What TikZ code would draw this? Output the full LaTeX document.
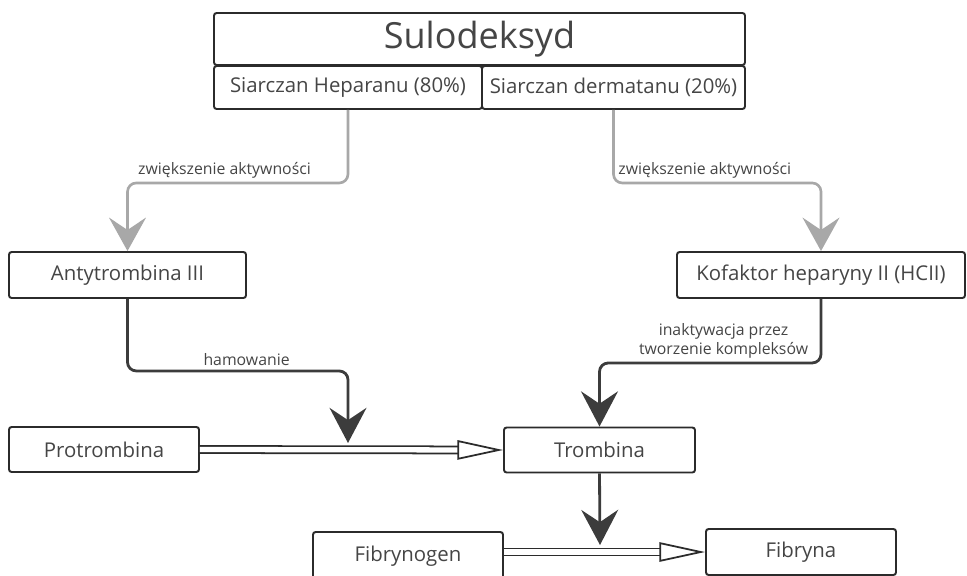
\documentclass[tikz,border=0pt]{standalone}
\usepackage{fontspec}
\setmainfont{Open Sans}
\usetikzlibrary{arrows.meta}

\definecolor{boxline}{HTML}{2B2B2B}
\definecolor{txt}{HTML}{454545}
\definecolor{lightarr}{HTML}{A8A8A8}
\definecolor{darkarr}{HTML}{3C3C3C}

\tikzset{
  box/.style={draw=boxline, line width=1.1pt, rounded corners=1.5pt, fill=white,
    text=txt, font=\fontsize{11.6pt}{14pt}\selectfont, inner sep=0pt},
  lbl/.style={text=txt, font=\fontsize{9pt}{10.5pt}\selectfont, align=center, inner sep=2pt},
  upreg/.style={draw=lightarr, line width=1.5pt, rounded corners=5pt,
    -{Stealth[length=19pt, width=21pt, inset=7pt]}},
  inhib/.style={draw=darkarr, line width=1.6pt, rounded corners=5pt,
    -{Stealth[length=20pt, width=21pt, inset=7pt]}},
  convert/.style={draw=boxline, line width=1pt, double=white, double distance=3pt,
    -{Triangle[open, length=26pt, width=11pt]}}
}

\begin{document}
\begin{tikzpicture}[x=0.02cm, y=-0.02cm]
\clip (0,0) rectangle (967,575);

\node[box, minimum width=531*0.02cm, minimum height=52*0.02cm,
  font=\fontsize{20.5pt}{24pt}\selectfont] (sulo) at (479.5,39) {Sulodeksyd};
\node[box, minimum width=268*0.02cm, minimum height=43*0.02cm] (hep) at (348,87.5) {Siarczan Heparanu (80\%)};
\node[box, minimum width=263*0.02cm, minimum height=43*0.02cm] (derm) at (613.5,87.5) {Siarczan dermatanu (20\%)};

\node[box, minimum width=237*0.02cm, minimum height=46*0.02cm] (anty) at (127.5,275) {Antytrombina III};
\node[box, minimum width=288*0.02cm, minimum height=46*0.02cm] (hcii) at (821,275) {Kofaktor heparyny II (HCII)};

\node[box, minimum width=190*0.02cm, minimum height=45*0.02cm] (pro) at (104,449.5) {Protrombina};
\node[box, minimum width=191*0.02cm, minimum height=45*0.02cm] (trom) at (599.5,450) {Trombina};

\node[box, minimum width=190*0.02cm, minimum height=48*0.02cm] (fgen) at (408,556) {Fibrynogen};
\node[box, minimum width=190*0.02cm, minimum height=46*0.02cm] (fryna) at (801,552) {Fibryna};

\coordinate (inh) at (348,443);
\coordinate (act) at (600,545);

\draw[upreg] (hep.south) -- ++(0,73) -| node[lbl, pos=0.28, above] {zwiększenie aktywności} (anty.north);
\draw[upreg] (derm.south) -- ++(0,73) -| node[lbl, pos=0.22, above] {zwiększenie aktywności} (hcii.north);

\draw[inhib] (anty.south) -- ++(0,72) -| node[lbl, pos=0.27, above] {hamowanie} (inh);
\draw[inhib] (hcii.south) -- ++(0,64) -| node[lbl, pos=0.22, above] {inaktywacja przez\\tworzenie kompleksów} (trom.north);

\draw[convert] (pro.east) -- (trom.west);
\draw[inhib] (trom.south) -- (act);
\draw[convert] (fgen.east |- fryna.west) -- (fryna.west);
\end{tikzpicture}
\end{document}
